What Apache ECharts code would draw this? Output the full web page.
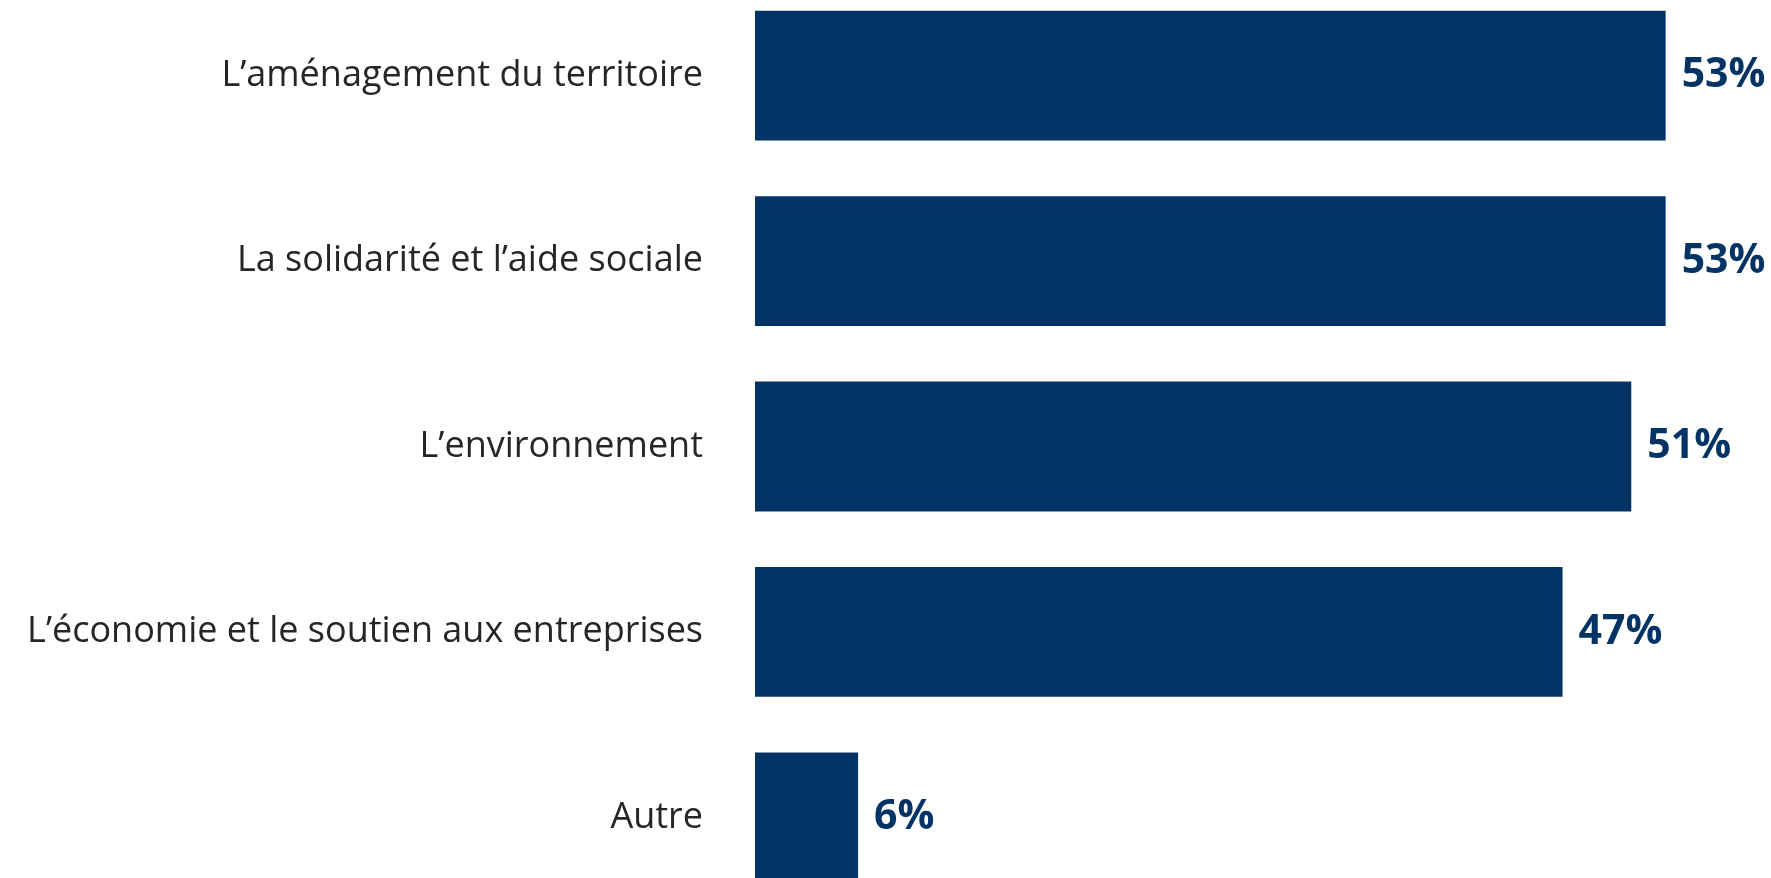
<!DOCTYPE html>
<html>
<head>
<meta charset="utf-8">
<script src="https://cdn.jsdelivr.net/npm/echarts@6/dist/echarts.min.js"></script>
<style>
  html, body { margin: 0; padding: 0; background: #fff; }
  #main { width: 1771px; height: 878px; }
</style>
</head>
<body>
<div id="main"></div>
<script>
// catégories, de haut en bas
const categories = [
  'L\u2019aménagement du territoire',
  'La solidarité et l\u2019aide sociale',
  'L\u2019environnement',
  'L\u2019économie et le soutien aux entreprises',
  'Autre'
]
// pourcentages
const values = [53, 53, 51, 47, 6]

const chart = echarts.init(document.getElementById('main'))

const option = {
  animation: false,
  grid: {
    left: 755,
    right: 71,
    top: -17,
    bottom: -32,
    outerBoundsMode: 'none',
    containLabel: false
  },
  xAxis: {
    type: 'value',
    min: 0,
    max: 55,
    show: false
  },
  yAxis: {
    type: 'category',
    data: categories,
    inverse: true,
    axisLine: { show: false },
    axisTick: { show: false },
    axisLabel: {
      margin: 52,
      color: '#262626',
      fontFamily: 'Open Sans',
      fontSize: 36,
      padding: [8, 0, 0, 0]
    }
  },
  series: [
    {
      type: 'bar',
      data: values,
      barCategoryGap: '30%',
      itemStyle: { color: '#013465' },
      label: {
        show: true,
        position: 'right',
        distance: 16,
        formatter: '{c}%',
        color: '#013465',
        fontFamily: 'Open Sans',
        fontWeight: 'bold',
        fontSize: 41,
        padding: [12, 0, 0, 0]
      }
    }
  ]
}

chart.setOption(option)
</script>
</body>
</html>
